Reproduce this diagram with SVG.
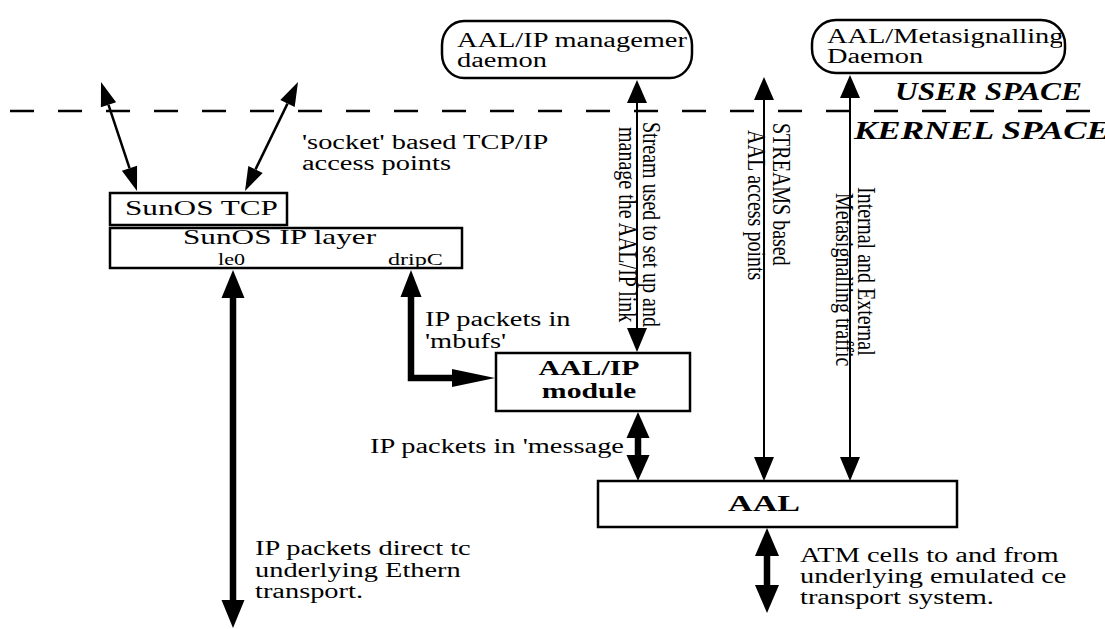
<svg xmlns="http://www.w3.org/2000/svg" width="1105" height="629" viewBox="0 0 1105 629">
<style>
.t{font-family:"Liberation Serif","Times New Roman",serif;font-size:20px;fill:#000}
.b{font-weight:bold}
.bi{font-family:"Liberation Serif","Times New Roman",serif;font-weight:bold;font-style:italic;font-size:25px;fill:#000}
.box{fill:#fff;stroke:#000;stroke-width:2.5}
.thin{stroke:#000;stroke-width:2;fill:none}
.thick{stroke:#000;stroke-width:6.5;fill:none}
.head{fill:#000;stroke:none}
.dash{stroke:#000;stroke-width:2.5;stroke-dasharray:24 24;fill:none}
</style>
<defs>
<clipPath id="c2"><rect x="812" y="20" width="250" height="53"/></clipPath>
</defs>
<rect width="1105" height="629" fill="#fff"/>
<line class="dash" x1="10" y1="111" x2="1090" y2="111"/>

<g id="mgmt-daemon">
<rect class="box" x="442" y="21" width="250" height="57" rx="22" ry="24"/>
<text class="t" transform="translate(457,47) scale(1.42,1)">AAL/IP managemer</text>
<text class="t" transform="translate(457,67) scale(1.42,1)">daemon</text>
</g>
<g id="meta-daemon">
<rect class="box" x="812" y="20" width="253" height="53" rx="24" ry="24"/>
<g clip-path="url(#c2)">
<text class="t" transform="translate(827,43) scale(1.42,1)">AAL/Metasignalling</text>
</g>
<text class="t" transform="translate(827,63) scale(1.42,1)">Daemon</text>
</g>
<g id="sunos-tcp">
<rect class="box" x="110" y="193" width="177" height="32"/>
<text class="t" style="font-size:22px" transform="translate(125,215) scale(1.42,1)">SunOS TCP</text>
</g>
<g id="sunos-ip">
<rect class="box" x="110" y="228" width="352" height="40"/>
<text class="t" style="font-size:22px" transform="translate(183,244) scale(1.42,1)">SunOS IP layer</text>
<text class="t" style="font-size:17px" transform="translate(218,265) scale(1.3,1)">le0</text>
<text class="t" style="font-size:17px" transform="translate(388,265) scale(1.42,1)">dripC</text>
</g>
<g id="aalip-module">
<rect class="box" x="496" y="353" width="194" height="58"/>
<text class="t b" style="font-size:21px" text-anchor="middle" transform="translate(589,375) scale(1.42,1)">AAL/IP</text>
<text class="t b" style="font-size:21px" text-anchor="middle" transform="translate(589,398) scale(1.42,1)">module</text>
</g>
<g id="aal">
<rect class="box" x="598" y="481" width="359" height="46"/>
<text class="t b" style="font-size:24px" text-anchor="middle" transform="translate(764,511) scale(1.42,1)">AAL</text>
</g>

<g id="connectors">
<!-- socket access arrows -->
<line class="thin" x1="108.5" y1="104.8" x2="129.5" y2="168.2" style="stroke-width:2.5"/>
<polygon class="head" points="101,82 100.9,107.3 116.1,102.3"/>
<polygon class="head" points="137,191 121.9,170.7 137.1,165.7"/>
<line class="thin" x1="287.5" y1="103.6" x2="255.5" y2="169.4" style="stroke-width:2.5"/>
<polygon class="head" points="298,82 280.3,100.1 294.7,107.1"/>
<polygon class="head" points="245,191 248.3,165.9 262.7,172.9"/>
<!-- le0 -->
<line class="thick" x1="233" y1="296" x2="233" y2="602"/>
<polygon class="head" points="233,270 221.5,298 244.5,298"/>
<polygon class="head" points="233,628 221.5,600 244.5,600"/>
<!-- dripC to module -->
<path class="thick" d="M411,295 V378 H454" style="stroke-linejoin:miter"/>
<polygon class="head" points="411,270 400.5,297 421.5,297"/>
<polygon class="head" points="495,378 452,369 452,387"/>
<!-- module to AAL -->
<line class="thick" x1="638" y1="436" x2="638" y2="457"/>
<polygon class="head" points="638,412 626.5,438 649.5,438"/>
<polygon class="head" points="638,481 626.5,455 649.5,455"/>
<!-- AAL to cells -->
<line class="thick" x1="767" y1="554" x2="767" y2="587"/>
<polygon class="head" points="767,528 755,556 779,556"/>
<polygon class="head" points="767,613 755,585 779,585"/>
<!-- stream management -->
<line class="thin" x1="637" y1="101" x2="637" y2="330"/>
<polygon class="head" points="637,80 627,103 647,103"/>
<polygon class="head" points="637,352 627,328 647,328"/>
<!-- STREAMS access -->
<line class="thin" x1="764" y1="98" x2="764" y2="459"/>
<polygon class="head" points="764,77 754,100 774,100"/>
<polygon class="head" points="764,481 754,457 774,457"/>
<!-- metasignalling -->
<line class="thin" x1="850" y1="96" x2="850" y2="459"/>
<polygon class="head" points="850,75 840,98 860,98"/>
<polygon class="head" points="850,481 840,457 860,457"/>
</g>

<g id="labels">
<text class="bi" x="895" y="100" textLength="187" lengthAdjust="spacingAndGlyphs">USER SPACE</text>
<text class="bi" x="854" y="139" textLength="256" lengthAdjust="spacingAndGlyphs">KERNEL SPACE</text>
<text class="t" transform="translate(302,149) scale(1.42,1)">'socket' based TCP/IP</text>
<text class="t" transform="translate(302,170) scale(1.42,1)">access points</text>
<text class="t" transform="translate(425,326) scale(1.42,1)">IP packets in</text>
<text class="t" transform="translate(425,348) scale(1.42,1)">'mbufs'</text>
<text class="t" transform="translate(370,453) scale(1.42,1)">IP packets in 'message</text>
<text class="t" transform="translate(255,555) scale(1.42,1)">IP packets direct tc</text>
<text class="t" transform="translate(255,577) scale(1.42,1)">underlying Ethern</text>
<text class="t" transform="translate(255,598) scale(1.42,1)">transport.</text>
<text class="t" transform="translate(800,562) scale(1.42,1)">ATM cells to and from</text>
<text class="t" transform="translate(800,583) scale(1.42,1)">underlying emulated ce</text>
<text class="t" transform="translate(800,604) scale(1.42,1)">transport system.</text>
<text class="t" transform="translate(643,122) scale(1.3,1) rotate(90)">Stream used to set up and</text>
<text class="t" transform="translate(619,127) scale(1.3,1) rotate(90)">manage the AAL/IP link</text>
<text class="t" transform="translate(773,123) scale(1.3,1) rotate(90)">STREAMS based</text>
<text class="t" transform="translate(748,130) scale(1.3,1) rotate(90)">AAL access points</text>
<text class="t" transform="translate(858,187) scale(1.3,1) rotate(90)">Internal and External</text>
<text class="t" transform="translate(836,193) scale(1.3,1) rotate(90)">Metasignalling traffic</text>
</g>
</svg>
